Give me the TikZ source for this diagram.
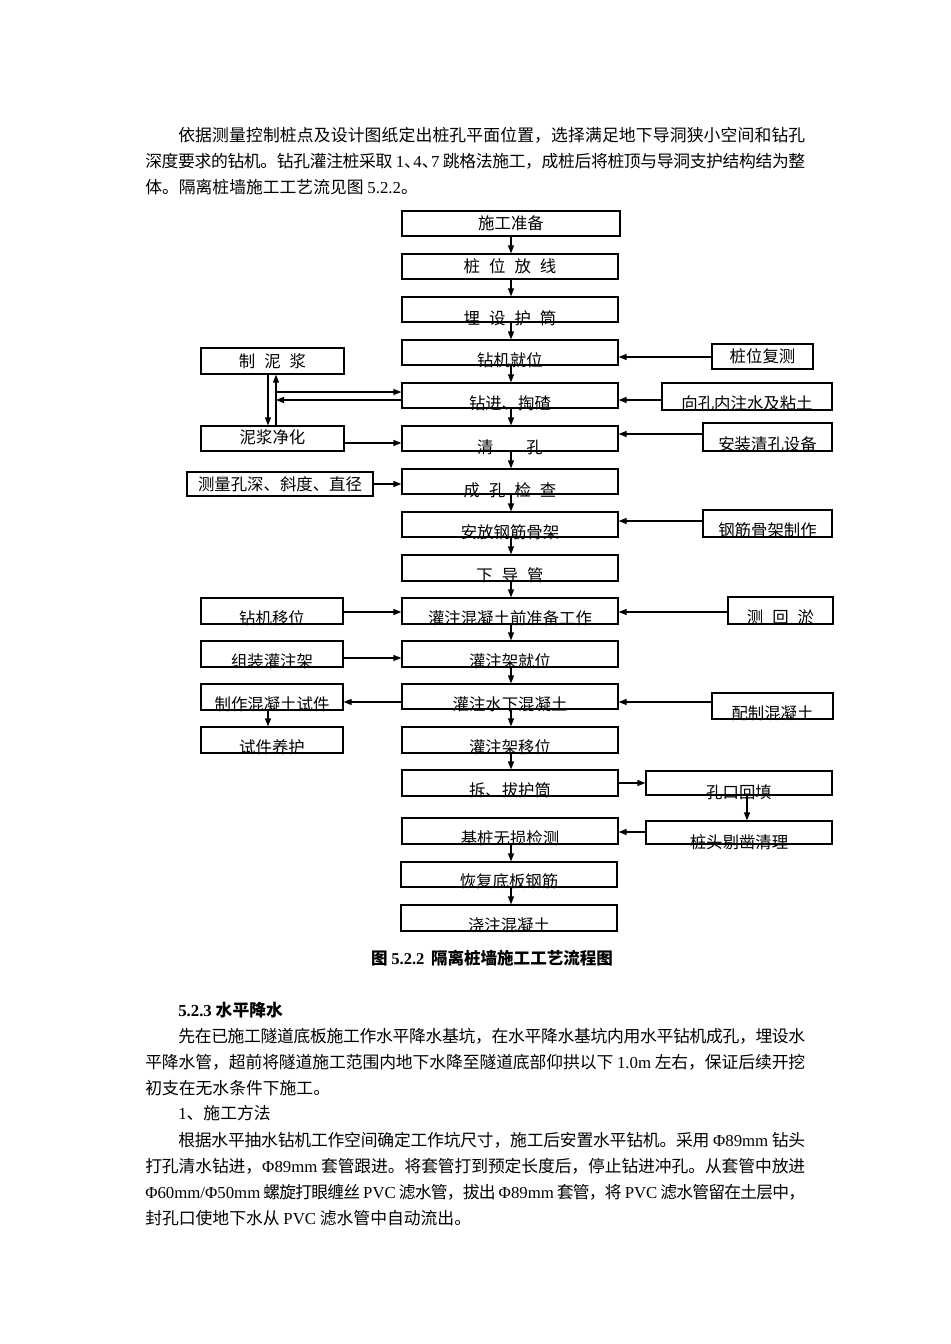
\documentclass[tikz,border=0pt]{standalone}
\usepackage{fontspec}
\setmainfont{Noto Sans CJK SC}
\newfontfamily\lat{Liberation Serif}
\usetikzlibrary{arrows.meta,fit}
\newXeTeXintercharclass\cjkcls
\newcount\cjkc
\cjkc="4E00
\loop \XeTeXcharclass\cjkc=\cjkcls \advance\cjkc by 1 \ifnum\cjkc<"9FFF \repeat
\XeTeXcharclass"3001=\cjkcls
\XeTeXcharclass"3002=\cjkcls
\XeTeXcharclass"FF0C=\cjkcls
\XeTeXinterchartokenstate=1
\XeTeXinterchartoks\cjkcls\cjkcls={\hskip 0pt plus 0.3em minus 0.08em\relax}
\newcommand\fl[1]{\makebox[495pt][s]{#1}}
\newcommand\il[1]{\makebox[470.25pt][s]{#1}}
\newcommand\kg{\hspace{0.55em}}
\newcommand\hd{\makebox[0.55em][l]{、}}
\newcommand\bx[7]{%
  \coordinate (#1-a) at (#2,#3);
  \coordinate (#1-b) at (#4,#5);
  \node[bxs, fit=(#1-a)(#1-b)] (#1) {};
  \node[lab] (#1-t) at ({(#2+#4)/2},#6) {#7};
}
\tikzset{
  bxs/.style={draw, line width=0.9pt, inner sep=0pt},
  lab/.style={inner sep=0pt, font=\fontsize{12.3pt}{14pt}\selectfont},
  body/.style={anchor=west, inner sep=0pt, font=\fontsize{12.6pt}{15pt}\selectfont},
  arr/.style={-{Triangle[length=6pt,width=4.5pt]}, line width=0.9pt},
}
\begin{document}
\begin{tikzpicture}[x=0.75pt,y=-0.75pt]
\fill[white] (0,0) rectangle (950,1344);
\useasboundingbox (0,0) rectangle (950,1344);

% ---- body text above
\node[body] (p1) at (178,135) {\il{依据测量控制桩点及设计图纸定出桩孔平面位置，选择满足地下导洞狭小空间和钻孔}};
\node[body] (p2) at (145,161) {\fl{深度要求的钻机。钻孔灌注桩采取 {\lat 1}\hd{\lat 4}\hd{\lat 7} 跳格法施工，成桩后将桩顶与导洞支护结构结为整}};
\node[body] (p3) at (145,187) {体。隔离桩墙施工工艺流见图 {\lat 5.2.2}。};

% ---- main column
\bx{B1}{402}{211}{620}{236}{223}{施工准备}
\bx{B2}{402}{254}{618}{279}{266}{桩\kg 位\kg 放\kg 线}
\bx{B3}{402}{297}{618}{322}{318}{埋\kg 设\kg 护\kg 筒}
\bx{B4}{402}{340}{618}{365}{360}{钻机就位}
\bx{B5}{402}{383}{618}{408}{403}{钻进、掏碴}
\bx{B6}{402}{426}{618}{451}{447}{清\hspace{2em}孔}
\bx{B7}{402}{469}{618}{494}{490}{成\kg 孔\kg 检\kg 查}
\bx{B8}{402}{512}{618}{537}{532}{安放钢筋骨架}
\bx{B9}{402}{555}{618}{581}{575}{下\kg 导\kg 管}
\bx{B10}{402}{598}{618}{624}{618}{灌注混凝土前准备工作}
\bx{B11}{402}{641}{618}{667}{661}{灌注架就位}
\bx{B12}{402}{684}{618}{709}{704}{灌注水下混凝土}
\bx{B13}{402}{727}{618}{753}{747}{灌注架移位}
\bx{B14}{402}{770}{618}{796}{790}{拆、拔护筒}
\bx{B15}{402}{818}{618}{844}{838}{基桩无损检测}
\bx{B16}{401}{862}{617}{887}{881}{恢复底板钢筋}
\bx{B17}{401}{905}{617}{931}{925}{浇注混凝土}

% ---- left column
\bx{L1}{201}{348}{344}{374}{361}{制\kg 泥\kg 浆}
\bx{L2}{201}{426}{344}{451}{437}{泥浆净化}
\bx{L3}{187}{472}{373}{496}{484}{测量孔深、斜度、直径}
\bx{L4}{201}{598}{343}{624}{618}{钻机移位}
\bx{L5}{201}{641}{343}{667}{661}{组装灌注架}
\bx{L6}{201}{684}{343}{710}{704}{制作混凝土试件}
\bx{L7}{201}{727}{343}{753}{747}{试件养护}

% ---- right column
\bx{R1}{712}{344}{813}{369}{356}{桩位复测}
\bx{R2}{662}{383}{832}{410}{403}{向孔内注水及粘土}
\bx{R3}{703}{423}{832}{451}{444}{安装清孔设备}
\bx{R4}{703}{510}{832}{537}{530}{钢筋骨架制作}
\bx{R5}{728}{597}{833}{624}{617}{测\kg 回\kg 淤}
\bx{R6}{712}{693}{833}{719}{713}{配制混凝土}
\bx{R7}{646}{771}{832}{795}{792}{孔口回填}
\bx{R8}{646}{821}{832}{844}{842}{桩头剔凿清理}

% ---- main vertical arrows
\draw[arr] (B1.south -| 511,0) -- (B2.north -| 511,0);
\draw[arr] (B2.south -| 511,0) -- (B3.north -| 511,0);
\draw[arr] (B3.south -| 511,0) -- (B4.north -| 511,0);
\draw[arr] (B4.south -| 511,0) -- (B5.north -| 511,0);
\draw[arr] (B5.south -| 511,0) -- (B6.north -| 511,0);
\draw[arr] (B6.south -| 511,0) -- (B7.north -| 511,0);
\draw[arr] (B7.south -| 511,0) -- (B8.north -| 511,0);
\draw[arr] (B8.south -| 511,0) -- (B9.north -| 511,0);
\draw[arr] (B9.south -| 511,0) -- (B10.north -| 511,0);
\draw[arr] (B10.south -| 511,0) -- (B11.north -| 511,0);
\draw[arr] (B11.south -| 511,0) -- (B12.north -| 511,0);
\draw[arr] (B12.south -| 511,0) -- (B13.north -| 511,0);
\draw[arr] (B13.south -| 511,0) -- (B14.north -| 511,0);
\draw[arr] (B15.south -| 511,0) -- (B16.north -| 511,0);
\draw[arr] (B16.south -| 511,0) -- (B17.north -| 511,0);

% ---- left connectors
\coordinate (J1) at (276,392);
\coordinate (J2) at (276,400);
\draw[arr] (L1.south -| 268,0) -- (L2.north -| 268,0);
\draw[arr] (L2.north -| 276,0) -- (L1.south -| 276,0);
\draw[arr] (J1) -- (J1 -| B5.west);
\draw[arr] (B5.west |- J2) -- (J2);
\draw[arr] (L2.east |- 0,443) -- (B6.west |- 0,443);
\draw[arr] (L3.east |- 0,484) -- (B7.west |- 0,484);
\draw[arr] (L4.east |- 0,612) -- (B10.west |- 0,612);
\draw[arr] (L5.east |- 0,658) -- (B11.west |- 0,658);
\draw[arr] (B12.west |- 0,702) -- (L6.east |- 0,702);
\draw[arr] (L6.south -| 268,0) -- (L7.north -| 268,0);

% ---- right connectors
\draw[arr] (R1.west |- 0,357) -- (B4.east |- 0,357);
\draw[arr] (R2.west |- 0,400) -- (B5.east |- 0,400);
\draw[arr] (R3.west |- 0,434) -- (B6.east |- 0,434);
\draw[arr] (R4.west |- 0,521) -- (B8.east |- 0,521);
\draw[arr] (R5.west |- 0,612) -- (B10.east |- 0,612);
\draw[arr] (R6.west |- 0,702) -- (B12.east |- 0,702);
\draw[arr] (B14.east |- 0,783) -- (R7.west |- 0,783);
\draw[arr] (R7.south -| 747,0) -- (R8.north -| 747,0);
\draw[arr] (R8.west |- 0,832) -- (B15.east |- 0,832);

% ---- caption
\node[inner sep=0pt, font=\fontsize{12.4pt}{15pt}\selectfont\bfseries] (cap) at (492,958) {图 {\lat\bfseries 5.2.2}\hspace{0.4em}隔离桩墙施工工艺流程图};

% ---- body text below
\node[body, font=\fontsize{12.6pt}{15pt}\selectfont\bfseries] (h1) at (178,1010) {{\lat\bfseries 5.2.3} 水平降水};
\node[body] (q1) at (178,1036) {\il{先在已施工隧道底板施工作水平降水基坑，在水平降水基坑内用水平钻机成孔，埋设水}};
\node[body] (q2) at (145,1062) {\fl{平降水管，超前将隧道施工范围内地下水降至隧道底部仰拱以下 {\lat 1.0m} 左右，保证后续开挖}};
\node[body] (q3) at (145,1088) {初支在无水条件下施工。};
\node[body] (q4) at (178,1113) {{\lat 1}、施工方法};
\node[body] (q5) at (178,1140) {\il{根据水平抽水钻机工作空间确定工作坑尺寸，施工后安置水平钻机。采用 {\lat Φ89mm} 钻头}};
\node[body] (q6) at (145,1166) {\fl{打孔清水钻进，{\lat Φ89mm} 套管跟进。将套管打到预定长度后，停止钻进冲孔。从套管中放进}};
\node[body] (q7) at (145,1192) {\fl{{\lat Φ60mm/Φ50mm} 螺旋打眼缠丝 {\lat PVC} 滤水管，拔出 {\lat Φ89mm} 套管，将 {\lat PVC} 滤水管留在土层中，}};
\node[body] (q8) at (145,1218) {封孔口使地下水从 {\lat PVC} 滤水管中自动流出。};
\end{tikzpicture}
\end{document}
